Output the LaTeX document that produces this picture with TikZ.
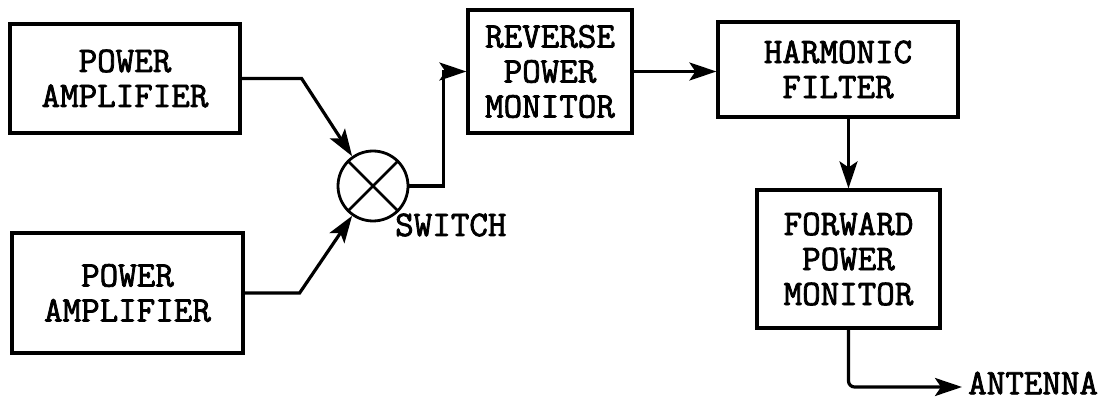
\documentclass[tikz,border=0pt]{standalone}
\usepackage{fontspec}
\newfontfamily\twfont{Latin Modern Mono}[FakeBold=2.2]
\usetikzlibrary{arrows.meta,calc}
\tikzset{
  txt/.style={font=\twfont\fontsize{36}{35}\selectfont},
  blk/.style={draw, line width=3.2pt, align=center, inner sep=0pt, txt},
  lbl/.style={inner sep=0pt, txt},
  conn/.style={line width=3.2pt, -{Stealth[length=27pt,width=18pt,inset=6pt]}},
  plain/.style={line width=2.8pt}
}
\begin{document}
\begin{tikzpicture}[x=1pt,y=-1pt]
\useasboundingbox (0,0) rectangle (1111,403);
\node[blk, minimum width=230pt, minimum height=109pt] (pa1) at (125,78.5) {POWER\\AMPLIFIER};
\node[blk, minimum width=231pt, minimum height=120pt] (pa2) at (127.5,293) {POWER\\AMPLIFIER};
\node[draw, circle, line width=2.8pt, minimum size=70pt, inner sep=0pt] (sw) at (373,186) {};
\draw[plain] (sw.45) -- (sw.225);
\draw[plain] (sw.135) -- (sw.315);
\node[lbl, anchor=west] (swl) at (395,225) {SWITCH};
\node[blk, minimum width=164pt, minimum height=123pt] (rpm) at (550,71.5) {REVERSE\\POWER\\MONITOR};
\node[blk, minimum width=240pt, minimum height=95pt] (hf) at (838,69.5) {HARMONIC\\FILTER};
\node[blk, minimum width=183pt, minimum height=138pt] (fpm) at (848.5,259) {FORWARD\\POWER\\MONITOR};
\node[lbl, anchor=west] (ant) at (968,383) {ANTENNA};
\coordinate (antin) at (962,387);
\draw[conn] (pa1.east) -- ++(60,0) -- (sw.125);
\draw[conn] (pa2.east) -- ++(55,0) -- (sw.235);
\draw[conn] (sw.east) -- ++(34,0) |- (rpm.west);
\draw[conn] (rpm.east) -- (rpm.east -| hf.west);
\draw[conn] (hf.south -| fpm.north) -- (fpm.north);
\draw[conn, rounded corners=6pt] (fpm.south) |- (antin);
\end{tikzpicture}
\end{document}
